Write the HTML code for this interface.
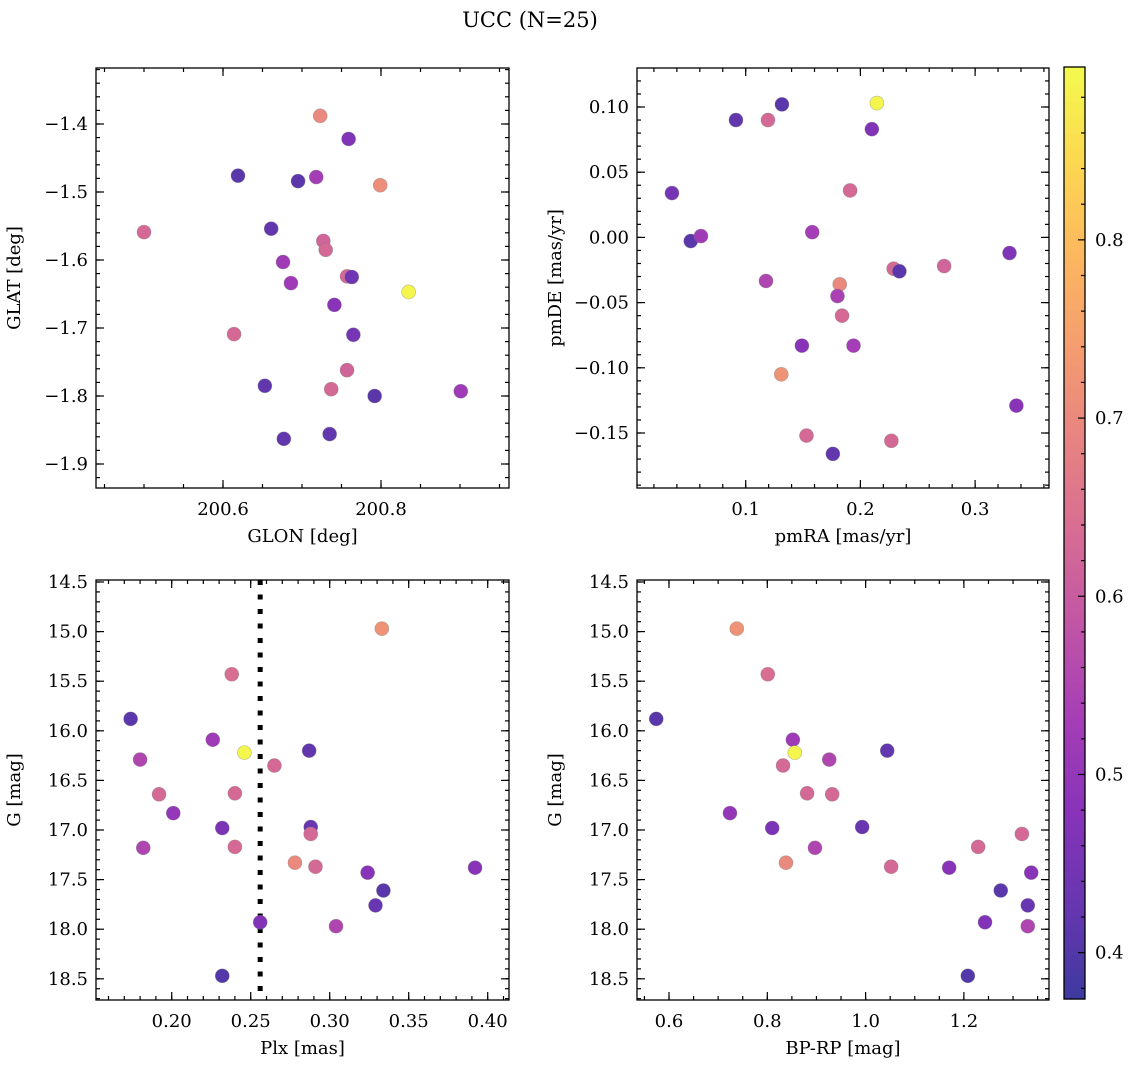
<!DOCTYPE html>
<html><head><meta charset="utf-8"><style>
html,body{margin:0;padding:0;background:#fff;}
svg{display:block;font-family:"DejaVu Serif","Liberation Serif",serif;}
</style></head><body>
<svg id="fig" width="1136" height="1067" viewBox="0 0 1136 1067" xmlns="http://www.w3.org/2000/svg">
<text x="530" y="27" text-anchor="middle" font-size="21">UCC (N=25)</text>
</svg>
<script>
// ---- data ----
const glon=[200.500,200.619,200.661,200.676,200.677,200.653,200.686,200.695,200.718,200.723,200.727,200.730,200.741,200.737,200.735,200.757,200.759,200.763,200.757,200.765,200.792,200.799,200.835,200.901,200.614];
const glat=[-1.559,-1.476,-1.554,-1.603,-1.863,-1.785,-1.634,-1.484,-1.478,-1.388,-1.572,-1.585,-1.666,-1.790,-1.856,-1.624,-1.422,-1.625,-1.762,-1.710,-1.800,-1.490,-1.647,-1.793,-1.709];
const colP1=[0.63,0.41,0.42,0.52,0.42,0.42,0.52,0.41,0.53,0.70,0.62,0.63,0.48,0.63,0.42,0.63,0.47,0.44,0.62,0.45,0.41,0.71,0.89,0.52,0.63];
const pmra=[0.0357,0.0521,0.061,0.0915,0.1194,0.1316,0.1177,0.210,0.2144,0.191,0.158,0.229,0.234,0.273,0.330,0.182,0.180,0.184,0.149,0.194,0.131,0.336,0.153,0.227,0.176];
const pmde=[0.034,-0.0028,0.001,0.090,0.090,0.102,-0.0334,0.083,0.103,0.036,0.004,-0.024,-0.026,-0.022,-0.012,-0.036,-0.045,-0.060,-0.083,-0.083,-0.105,-0.129,-0.152,-0.156,-0.166];
const colP2=[0.45,0.41,0.52,0.42,0.63,0.41,0.55,0.47,0.89,0.63,0.53,0.63,0.41,0.62,0.47,0.70,0.54,0.63,0.48,0.53,0.72,0.48,0.63,0.63,0.42];
const plx=[0.174,0.238,0.333,0.226,0.246,0.180,0.287,0.265,0.192,0.240,0.201,0.232,0.288,0.288,0.240,0.182,0.278,0.291,0.392,0.324,0.334,0.329,0.256,0.304,0.232];
const gmag=[15.88,15.43,14.97,16.09,16.22,16.29,16.20,16.35,16.64,16.63,16.83,16.98,16.97,17.04,17.17,17.18,17.33,17.37,17.38,17.43,17.61,17.76,17.93,17.97,18.47];
const bprp=[0.574,0.801,0.738,0.852,0.856,0.926,1.044,0.832,0.932,0.881,0.724,0.810,0.993,1.318,1.229,0.897,0.838,1.052,1.170,1.337,1.275,1.330,1.243,1.330,1.208];
const colP34=[0.41,0.64,0.72,0.52,0.89,0.55,0.42,0.63,0.63,0.63,0.50,0.46,0.43,0.63,0.63,0.55,0.70,0.63,0.48,0.48,0.41,0.43,0.47,0.55,0.40];
const plxLine=[0.256];
const cbTicks=[0.4,0.5,0.6,0.7,0.8];
const cRange=[0.374,0.897];

const NS="http://www.w3.org/2000/svg";
const svg=document.getElementById('fig');
function mk(tag,attrs,parent){const e=document.createElementNS(NS,tag);for(const k in attrs)e.setAttribute(k,attrs[k]);(parent||svg).appendChild(e);return e;}
const stops=[[13,8,135],[65,4,157],[106,0,168],[143,13,164],[177,42,144],[204,71,120],[225,100,98],[242,132,75],[252,166,54],[252,206,37],[240,249,33]];
const ALPHA=0.8;
function plasma(v){let t=(v-cRange[0])/(cRange[1]-cRange[0]);t=Math.max(0,Math.min(1,t))*10;const i=Math.min(9,Math.floor(t)),f=t-i;const a=stops[i],b=stops[i+1];
  return 'rgb('+a.map((c,k)=>{const x=c+(b[k]-c)*f;return Math.round(x*ALPHA+255*(1-ALPHA));}).join(',')+')';}
function fmt(v,d){const s=Math.abs(v).toFixed(d);return (v<0?'\u2212':'')+s;}

function panel(o){
  const g=mk('g',{});
  
  
  const sx=v=>o.x0+(v-o.xa)/(o.xb-o.xa)*(o.x1-o.x0);
  const sy=v=>o.y1-(v-o.ya)/(o.yb-o.ya)*(o.y1-o.y0);
  const tk=(vals,len,isX)=>{vals.forEach(v=>{
    if(isX){const X=sx(v);if(X<o.x0-0.5||X>o.x1+0.5)return;
      const t1=mk('line',{x1:X,x2:X,y1:o.y1,y2:o.y1-len,stroke:'#000','stroke-width':1.2},g);
      const t2=mk('line',{x1:X,x2:X,y1:o.y0,y2:o.y0+len,stroke:'#000','stroke-width':1.2},g);}
    else{const Y=sy(v);if(Y<o.y0-0.5||Y>o.y1+0.5)return;
      const t1=mk('line',{x1:o.x0,x2:o.x0+len,y1:Y,y2:Y,stroke:'#000','stroke-width':1.2},g);
      const t2=mk('line',{x1:o.x1,x2:o.x1-len,y1:Y,y2:Y,stroke:'#000','stroke-width':1.2},g);}
  });};
  const range=(a,b,s)=>{const r=[];for(let v=Math.ceil(a/s-1e-6)*s;v<=b+1e-9;v+=s)r.push(+v.toFixed(6));return r;};
  tk(range(o.xa,o.xb,o.xminor),4,true);tk(range(o.xa,o.xb,o.xmajor),8,true);
  tk(range(Math.min(o.ya,o.yb),Math.max(o.ya,o.yb),o.yminor),4,false);tk(range(Math.min(o.ya,o.yb),Math.max(o.ya,o.yb),o.ymajor),8,false);
  range(o.xa,o.xb,o.xmajor).forEach(v=>{const X=sx(v);if(X<o.x0||X>o.x1)return;
    const t=mk('text',{x:X,y:o.y1+27,'text-anchor':'middle','font-size':18},g);t.textContent=fmt(v,o.xd);
    });
  range(Math.min(o.ya,o.yb),Math.max(o.ya,o.yb),o.ymajor).forEach(v=>{const Y=sy(v);if(Y<o.y0-1||Y>o.y1+1)return;
    const t=mk('text',{x:o.x0-8,y:Y+6,'text-anchor':'end','font-size':18},g);t.textContent=fmt(v,o.yd);
    });
  const xl=mk('text',{x:(o.x0+o.x1)/2,y:o.y1+54,'text-anchor':'middle','font-size':18},g);xl.textContent=o.xlabel;
  
  const yx=o.x0-76,yc=(o.y0+o.y1)/2;
  const yl=mk('text',{x:yx,y:yc,'text-anchor':'middle','font-size':18,transform:'rotate(-90 '+yx+' '+yc+')'},g);yl.textContent=o.ylabel;
  
  if(o.vline){o.vline.forEach(v=>{const l=mk('line',{x1:sx(v),x2:sx(v),y1:o.y0,y2:o.y1,stroke:'#000','stroke-width':5,'stroke-dasharray':'5 9.5'},g);
    });}
  o.xs.forEach((xv,i)=>{const c=mk('circle',{cx:sx(xv),cy:sy(o.ys[i]),r:7,fill:plasma(o.cs[i]),stroke:'#777','stroke-opacity':0.5,'stroke-width':0.6},g);
    });
  const f=mk('rect',{x:o.x0,y:o.y0,width:o.x1-o.x0,height:o.y1-o.y0,fill:'none',stroke:'#000','stroke-width':1.3},g);
  
}

panel({name:'glon-glat-panel',x0:96,x1:509,y0:68,y1:488,xa:200.6-(223-96)/790,xb:200.6+(509-223)/790,ya:-1.4-(488-124)/680,yb:-1.4+(124-68)/680,
  xmajor:0.2,xminor:0.05,ymajor:0.1,yminor:0.02,xd:1,yd:1,xlabel:'GLON [deg]',ylabel:'GLAT [deg]',xs:glon,ys:glat,cs:colP1});
panel({name:'pm-panel',x0:637,x1:1049,y0:68,y1:488,xa:0.1-(745.7-637)/1147,xb:0.1+(1049-745.7)/1147,ya:0.10-(488-107)/1304,yb:0.10+(107-68)/1304,
  xmajor:0.1,xminor:0.02,ymajor:0.05,yminor:0.01,xd:1,yd:2,xlabel:'pmRA [mas/yr]',ylabel:'pmDE [mas/yr]',xs:pmra,ys:pmde,cs:colP2});
panel({name:'plx-g-panel',x0:96,x1:509,y0:580,y1:1000,xa:0.2-(171.7-96)/1580,xb:0.2+(509-171.7)/1580,ya:14.5+(1000-582)/99.2,yb:14.5-(582-580)/99.2,
  xmajor:0.05,xminor:0.01,ymajor:0.5,yminor:0.1,xd:2,yd:1,xlabel:'Plx [mas]',ylabel:'G [mag]',xs:plx,ys:gmag,cs:colP34,vline:plxLine});
panel({name:'cmd-panel',x0:637,x1:1049,y0:580,y1:1000,xa:0.6-(669-637)/491.5,xb:0.6+(1049-669)/491.5,ya:14.5+(1000-582)/99.2,yb:14.5-(582-580)/99.2,
  xmajor:0.2,xminor:0.05,ymajor:0.5,yminor:0.1,xd:1,yd:1,xlabel:'BP-RP [mag]',ylabel:'G [mag]',xs:bprp,ys:gmag,cs:colP34});

// colorbar
const cb=mk('g',{});


const cx0=1064,cx1=1085,cy0=67,cy1=999;
const cys=v=>cy1-(v-cRange[0])/(cRange[1]-cRange[0])*(cy1-cy0);
for(let k=0;k<233;k++){const y=cy0+k*4;const v=cRange[1]-(k+0.5)*4/(cy1-cy0)*(cRange[1]-cRange[0]);
  mk('rect',{x:cx0,y:y,width:cx1-cx0,height:4.6,fill:plasma(v)},cb);}
for(let v=0.38;v<=0.8961;v+=0.02){const Y=cys(v);const maj=Math.abs(v*10-Math.round(v*10))<1e-6;
  const l=mk('line',{x1:cx1,x2:cx1-(maj?7:4),y1:Y,y2:Y,stroke:'#000','stroke-width':1.2},cb);
  }
cbTicks.forEach(v=>{const t=mk('text',{x:cx1+10,y:cys(v)+6,'font-size':18},cb);t.textContent=v.toFixed(1);
  });
mk('rect',{x:cx0,y:cy0,width:cx1-cx0,height:cy1-cy0,fill:'none',stroke:'#000','stroke-width':1.3},cb);
</script>
</body></html>
